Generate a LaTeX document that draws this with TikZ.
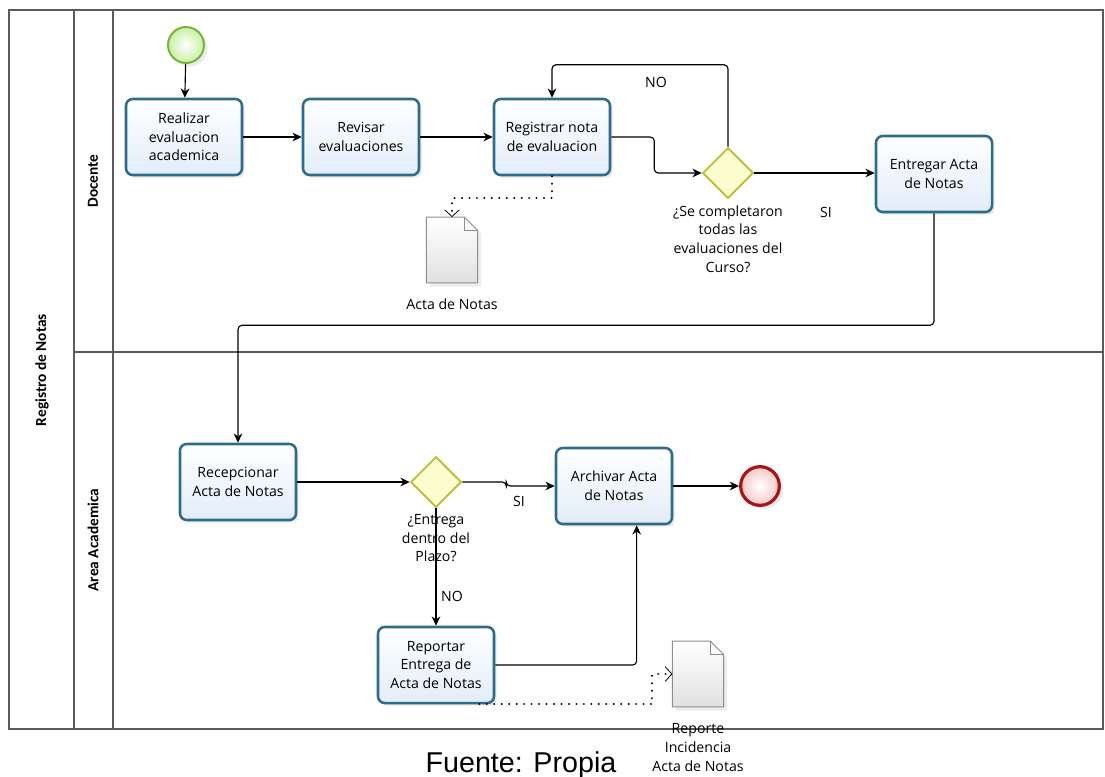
\documentclass[tikz,border=0pt]{standalone}
\usepackage{fontspec}
\setmainfont{Open Sans}
\newfontfamily\lanefont{Carlito}
\newfontfamily\captionfont{Liberation Sans}
\usetikzlibrary{positioning,shapes.geometric,arrows.meta,shadows}
\definecolor{taskline}{RGB}{47,108,140}
\definecolor{taskfill}{RGB}{226,237,249}
\definecolor{gateline}{RGB}{190,190,60}
\definecolor{gatefill}{RGB}{252,252,208}
\definecolor{startline}{RGB}{120,180,60}
\definecolor{startfill}{RGB}{200,240,160}
\definecolor{endline}{RGB}{170,20,20}
\definecolor{endfill}{RGB}{245,200,200}
\definecolor{docline}{RGB}{140,140,140}
\definecolor{laneline}{RGB}{90,90,90}
\begin{document}
\begin{tikzpicture}[x=0.75pt,y=-0.75pt,
    >={Stealth[length=7pt,width=6.5pt]},
    every node/.style={font=\fontsize{10.6}{14}\selectfont},
    task/.style={rectangle, rounded corners=5pt, draw=taskline, line width=1.9pt,
      top color=white, bottom color=taskfill, minimum width=87pt, minimum height=57pt,
      align=center, drop shadow={opacity=0.18, shadow xshift=2pt, shadow yshift=-2pt}},
    gate/.style={diamond, aspect=1, draw=gateline, line width=1.4pt, fill=gatefill,
      minimum width=38pt, minimum height=38pt, inner sep=0pt},
    doc/.style={rectangle, minimum width=38pt, minimum height=49pt, inner sep=0pt},
    flow/.style={->, line width=0.85pt, rounded corners=3pt},
    assoc/.style={-{Straight Barb[length=5pt,width=11pt,line width=0.6pt]}, line width=1.6pt,
      dash pattern=on 0.1pt off 5.5pt, line cap=round},
    lane/.style={draw=laneline, line width=0.9pt},
    lanelabel/.style={rotate=90, font=\lanefont\bfseries\fontsize{11.5}{14}\selectfont}]
\useasboundingbox (0,0) rectangle (1105,776);

% pool and lanes
\draw[lane] (9,10) rectangle (1103,729);
\draw[lane] (74,10) -- (74,729);
\draw[lane] (113,10) -- (113,729);
\draw[lane] (74,352) -- (1103,352);
\node[lanelabel] (pool) at (42,370) {Registro de Notas};
\node[lanelabel] (docente) at (93,181) {Docente};
\node[lanelabel] (academica) at (93,540) {Area Academica};

% Docente
\node[circle, minimum size=27pt, draw=startline, line width=1.5pt, inner color=white,
  outer color=startfill, drop shadow={opacity=0.15}] (start) at (186,45) {};
\node[task] (realizar) at (184,137) {Realizar\\evaluacion\\academica};
\node[task] (revisar) at (361,137) {Revisar\\evaluaciones};
\node[task] (registrar) at (552,137) {Registrar nota\\de evaluacion};
\node[gate] (completo) at (728,173) {};
\node[below=1pt of completo, align=center] {¿Se completaron\\todas las\\evaluaciones del\\Curso?};
\node[task] (entregar) at (934,174) {Entregar Acta\\de Notas};
\node[doc] (acta) at (452,250) {};
\node[below=8pt of acta] (actatxt) {Acta de Notas};
\node (noA) at (656,82) {NO};
\node (siA) at (826,212) {SI};

% Area Academica
\node[task] (recepcionar) at (238,482) {Recepcionar\\Acta de Notas};
\node[gate] (plazo) at (436,482) {};
\node[below=1pt of plazo, align=center] {¿Entrega\\dentro del\\Plazo?};
\node[task] (archivar) at (614,486) {Archivar Acta\\de Notas};
\node[circle, minimum size=29pt, draw=endline, line width=2.4pt, inner color=white,
  outer color=endfill, drop shadow={opacity=0.15}] (fin) at (760,486) {};
\node[task] (reportar) at (436,665) {Reportar\\Entrega de\\Acta de Notas};
\node[doc] (reporte) at (698,674) {};
\node[below=9pt of reporte, align=center] (reportetxt) {Reporte\\Incidencia\\Acta de Notas};
\node (siB) at (519,501) {SI};
\node (noB) at (452,596) {NO};

% documents
\foreach \d in {acta,reporte}{
  \draw[docline, line width=0.7pt, top color=white, bottom color=black!12,
    drop shadow={opacity=0.15}] (\d.south west) -- (\d.north west)
    -- ([xshift=-10pt]\d.north east) -- ([yshift=-10pt]\d.north east)
    -- (\d.south east) -- cycle;
  \draw[docline, line width=0.7pt] ([xshift=-10pt]\d.north east) |- ([yshift=-10pt]\d.north east);
}

% sequence flows
\draw[flow] (start) -- (realizar);
\draw[flow] (realizar) -- (revisar);
\draw[flow] (revisar) -- (registrar);
\draw[flow] (registrar.east) -- ++(43,0) |- (completo.west);
\draw[flow] (completo.north) -- ++(0,-82) -| (registrar.north);
\draw[flow] (completo.east) -- (entregar.west |- completo.east);
\draw[flow] (entregar.south) -- ++(0,112) -| (recepcionar.north);
\draw[flow] (recepcionar) -- (plazo);
\draw[flow] (plazo.east) -- ++(44,0) |- (archivar.west);
\draw[flow] (archivar) -- (fin);
\draw[flow] (plazo.south) -- (reportar.north);
\draw[flow] (reportar.east) -| ([xshift=17pt]archivar.south);

% data associations
\draw[assoc] (registrar.south) -- ++(0,22) -| (acta.north);
\draw[assoc] ([xshift=-12pt]reportar.south east) -| ([xshift=-15pt]reporte.west) -- (reporte.west);

\node[font=\captionfont\fontsize{21.5}{24}\selectfont, anchor=base] (fuente) at (521,772) {Fuente: Propia};
\end{tikzpicture}
\end{document}
